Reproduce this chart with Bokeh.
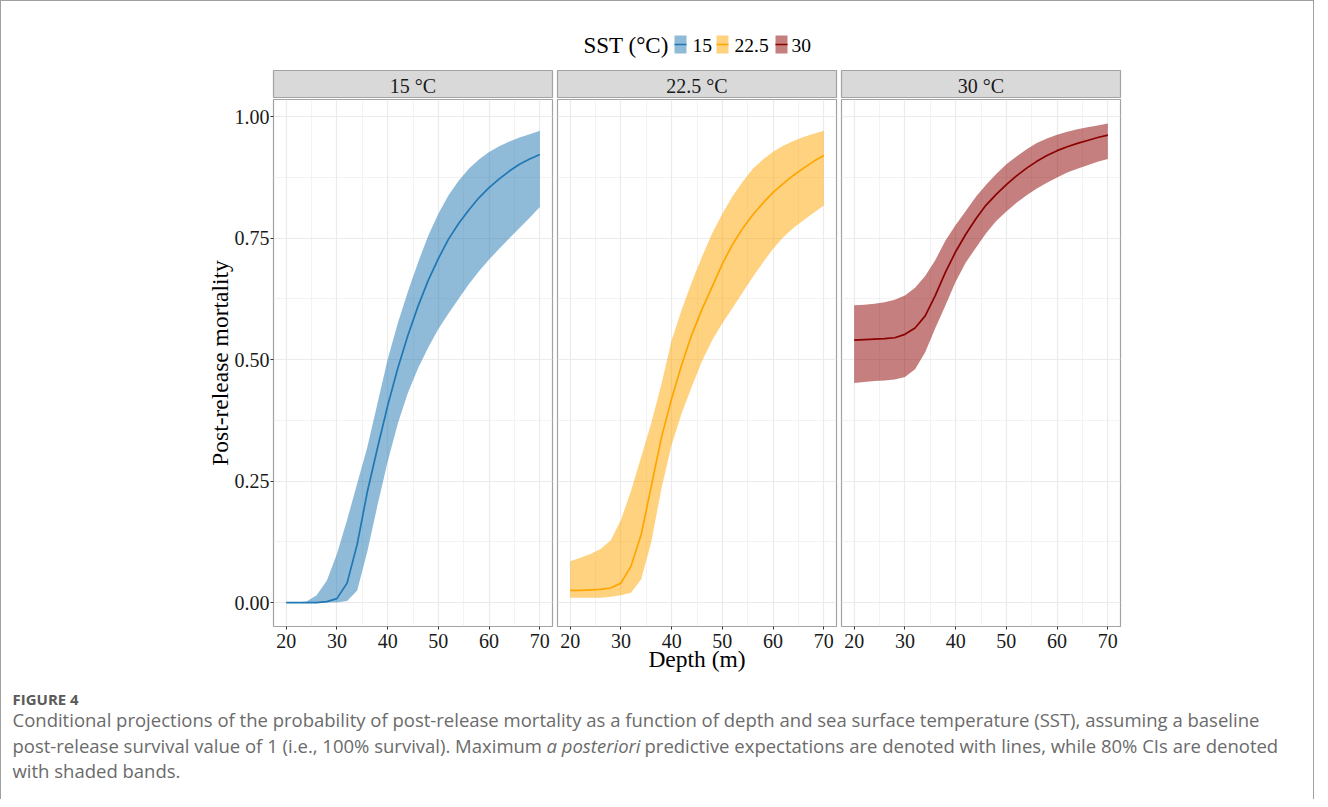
from bokeh.plotting import figure
from bokeh.layouts import column, row
from bokeh.models import Range1d, FixedTicker, PrintfTickFormatter, ColumnDataSource
from bokeh.core.properties import value
from bokeh.embed import file_html
from bokeh.resources import INLINE

# ---------------- data ----------------
depth = [20, 22, 24, 26, 28, 30, 32, 34, 36, 38, 40, 42, 44, 46, 48, 50,
         52, 54, 56, 58, 60, 62, 64, 66, 68, 70]

mean_15 = [0.000, 0.000, 0.000, 0.000, 0.002, 0.008, 0.040, 0.120, 0.228, 0.318, 0.405, 0.482, 0.550,
           0.610, 0.663, 0.708, 0.748, 0.780, 0.808, 0.833, 0.854, 0.872, 0.888, 0.902, 0.913, 0.922]
lo_15 = [0.000, 0.000, 0.000, 0.000, 0.000, 0.000, 0.003, 0.025, 0.105, 0.200, 0.290, 0.368, 0.432,
         0.482, 0.525, 0.563, 0.595, 0.625, 0.655, 0.682, 0.706, 0.728, 0.750, 0.771, 0.792, 0.814]
hi_15 = [0.000, 0.000, 0.002, 0.015, 0.045, 0.100, 0.170, 0.245, 0.320, 0.410, 0.500, 0.575, 0.640,
         0.700, 0.755, 0.800, 0.838, 0.868, 0.893, 0.912, 0.927, 0.939, 0.949, 0.957, 0.964, 0.971]

mean_22 = [0.025, 0.025, 0.026, 0.027, 0.030, 0.040, 0.075, 0.140, 0.240, 0.340, 0.420, 0.490, 0.552,
           0.604, 0.650, 0.697, 0.737, 0.770, 0.798, 0.822, 0.844, 0.862, 0.879, 0.894, 0.908, 0.920]
lo_22 = [0.010, 0.010, 0.010, 0.010, 0.012, 0.015, 0.020, 0.048, 0.125, 0.235, 0.325, 0.390, 0.445,
         0.497, 0.540, 0.575, 0.606, 0.638, 0.670, 0.700, 0.728, 0.752, 0.771, 0.787, 0.802, 0.817]
hi_22 = [0.085, 0.092, 0.100, 0.110, 0.128, 0.170, 0.230, 0.300, 0.370, 0.450, 0.540, 0.603, 0.660,
         0.712, 0.760, 0.800, 0.836, 0.866, 0.893, 0.912, 0.928, 0.940, 0.950, 0.958, 0.965, 0.971]

mean_30 = [0.540, 0.541, 0.542, 0.543, 0.545, 0.552, 0.565, 0.590, 0.632, 0.680, 0.722, 0.758, 0.790,
           0.818, 0.840, 0.860, 0.878, 0.894, 0.908, 0.920, 0.930, 0.938, 0.945, 0.951, 0.957, 0.962]
lo_30 = [0.452, 0.454, 0.456, 0.457, 0.459, 0.464, 0.480, 0.515, 0.565, 0.612, 0.660, 0.700, 0.730,
         0.760, 0.785, 0.805, 0.823, 0.838, 0.852, 0.864, 0.875, 0.885, 0.893, 0.900, 0.907, 0.913]
hi_30 = [0.612, 0.613, 0.615, 0.618, 0.623, 0.632, 0.648, 0.672, 0.705, 0.745, 0.777, 0.806, 0.835,
         0.860, 0.882, 0.902, 0.918, 0.933, 0.946, 0.955, 0.963, 0.969, 0.974, 0.978, 0.982, 0.986]

sst_labels = ["15", "22.5", "30"]
strip_labels = ["15 \u00b0C", "22.5 \u00b0C", "30 \u00b0C"]
line_colors = ["#1f77b4", "#ffa500", "#8b0000"]
x_ticks = [20, 30, 40, 50, 60, 70]
x_minor = [25, 35, 45, 55, 65]
y_ticks = [0.0, 0.25, 0.5, 0.75, 1.0]
y_minor = [0.125, 0.375, 0.625, 0.875]

series = [(mean_15, lo_15, hi_15), (mean_22, lo_22, hi_22), (mean_30, lo_30, hi_30)]

SERIF = "Liberation Serif"
SANS = "Open Sans"
BORDER = "#a3a3a3"
GRID = "#ebebeb"

FRAME_W = 279
FRAME_H = 527
LEFT = [272, 3, 3]
RIGHT = [2, 2, 10]

# ---------------- header with legend ----------------
W = 1312
HH = 69
header = figure(width=W, height=HH, x_range=Range1d(0, W), y_range=Range1d(HH, 0),
                output_backend="svg", toolbar_location=None,
                x_axis_location=None, y_axis_location=None,
                min_border=0, outline_line_color=None)
header.grid.visible = False
header.text(x=[582], y=[43.5], text=["SST (\u00b0C)"], text_font=value(SERIF),
            text_font_size="23px", text_align="left", text_baseline="middle", text_color="#000000")
key_x = [679, 721, 780]
lab_x = [691, 733, 790]
key_src = ColumnDataSource(dict(x=key_x, c=line_colors, lx=lab_x, lab=sst_labels,
                                x0=[k - 6 for k in key_x], x1=[k + 6 for k in key_x]))
header.rect(x="x", y=43, width=12, height=18, source=key_src, fill_color="c",
            fill_alpha=0.5, line_color=None)
header.segment(x0="x0", y0=43, x1="x1", y1=43, source=key_src, line_color="c", line_width=1.6)
header.text(x="lx", y=43.5, text="lab", source=key_src, text_font=value(SERIF),
            text_font_size="19.5px", text_align="left", text_baseline="middle", text_color="#000000")

# ---------------- panels ----------------
cols = []
for i in range(3):
    strip = figure(frame_width=FRAME_W, frame_height=28, x_range=Range1d(0, 1), y_range=Range1d(0, 1),
                   output_backend="svg", toolbar_location=None,
                   x_axis_location=None, y_axis_location=None,
                   min_border_left=LEFT[i], min_border_right=RIGHT[i], min_border_top=0, min_border_bottom=0,
                   background_fill_color="#d9d9d9", outline_line_color=BORDER, outline_line_width=1.2)
    strip.grid.visible = False
    strip.text(x=[0.5], y=[0.45], text=[strip_labels[i]], text_align="center", text_baseline="middle",
               text_font=value(SERIF), text_font_size="20px", text_color="#1a1a1a")

    p = figure(frame_width=FRAME_W, frame_height=FRAME_H,
               x_range=Range1d(17.5, 72.5), y_range=Range1d(-0.0493, 1.0353),
               output_backend="svg", toolbar_location=None,
               min_border_left=LEFT[i], min_border_right=RIGHT[i], min_border_top=1, min_border_bottom=50,
               outline_line_color=BORDER, outline_line_width=1.2)
    mean, lo, hi = series[i]
    src = ColumnDataSource(dict(x=depth, m=mean, lo=lo, hi=hi))
    p.varea(x="x", y1="lo", y2="hi", source=src, fill_color=line_colors[i], fill_alpha=0.5)
    p.line(x="x", y="m", source=src, line_color=line_colors[i], line_width=1.7)

    xt = FixedTicker(ticks=x_ticks, minor_ticks=x_minor)
    yt = FixedTicker(ticks=y_ticks, minor_ticks=y_minor)
    p.xaxis.ticker = xt
    p.yaxis.ticker = yt
    p.xgrid.ticker = xt
    p.ygrid.ticker = yt
    for g in (p.xgrid[0], p.ygrid[0]):
        g.grid_line_color = GRID
        g.grid_line_width = 1.2
        g.minor_grid_line_color = GRID
        g.minor_grid_line_width = 0.6

    for ax in (p.xaxis[0], p.yaxis[0]):
        ax.axis_line_color = None
        ax.major_tick_line_color = "#333333"
        ax.major_tick_in = 0
        ax.major_tick_out = 3
        ax.minor_tick_line_color = None
        ax.major_label_text_font = SERIF
        ax.major_label_text_font_size = "20px"
        ax.major_label_text_color = "#1a1a1a"
        ax.axis_label_text_font = SERIF
        ax.axis_label_text_font_size = "23.5px"
        ax.axis_label_text_font_style = "normal"
        ax.axis_label_text_color = "#000000"
    p.xaxis.major_label_standoff = 3
    p.yaxis.major_label_standoff = 0
    p.yaxis.formatter = PrintfTickFormatter(format="%.2f")
    if i == 0:
        p.yaxis.axis_label = "Post-release mortality"
        p.yaxis.axis_label_standoff = -1
    else:
        p.yaxis.visible = False
    if i == 1:
        p.xaxis.axis_label = "Depth (m)"
        p.xaxis.axis_label_standoff = -5
    cols.append(column(strip, p, spacing=0))

panels = row(*cols, spacing=0)

# ---------------- caption ----------------
CH = 123
cap = figure(width=W, height=CH, x_range=Range1d(0, W), y_range=Range1d(CH, 0),
             output_backend="svg", toolbar_location=None,
             x_axis_location=None, y_axis_location=None,
             min_border=0, outline_line_color=None)
cap.grid.visible = False
CAP_FONT = "18.5px"
CAP_COL = "#6b6b6b"
cap.text(x=[11], y=[22], text=["FIGURE 4"], text_font=value(SANS), text_font_size="15px",
         text_font_style="bold", text_color="#5a5a5a", text_baseline="middle")
cap_lines = [
    "Conditional projections of the probability of post-release mortality as a function of depth and sea surface temperature (SST), assuming a baseline",
    "with shaded bands.",
]
cap.text(x=[11, 11], y=[43, 94], text=cap_lines, text_font=value(SANS), text_font_size=CAP_FONT,
         text_color=CAP_COL, text_baseline="middle")
cap.text(x=[11], y=[69], text=["post-release survival value of 1 (i.e., 100% survival). Maximum"],
         text_font=value(SANS), text_font_size=CAP_FONT, text_color=CAP_COL, text_baseline="middle")
cap.text(x=[545], y=[69], text=["a posteriori"], text_font=value(SANS), text_font_size=CAP_FONT,
         text_font_style="italic", text_color=CAP_COL, text_baseline="middle")
cap.text(x=[643], y=[69], text=["predictive expectations are denoted with lines, while 80% CIs are denoted"],
         text_font=value(SANS), text_font_size=CAP_FONT, text_color=CAP_COL, text_baseline="middle")

layout = column(header, panels, cap, spacing=0,
                styles={"border-top": "1px solid #a0a0a0", "border-left": "1px solid #a0a0a0",
                        "border-right": "1px solid #a0a0a0"})

open("out.html", "w").write(file_html(layout, INLINE))
